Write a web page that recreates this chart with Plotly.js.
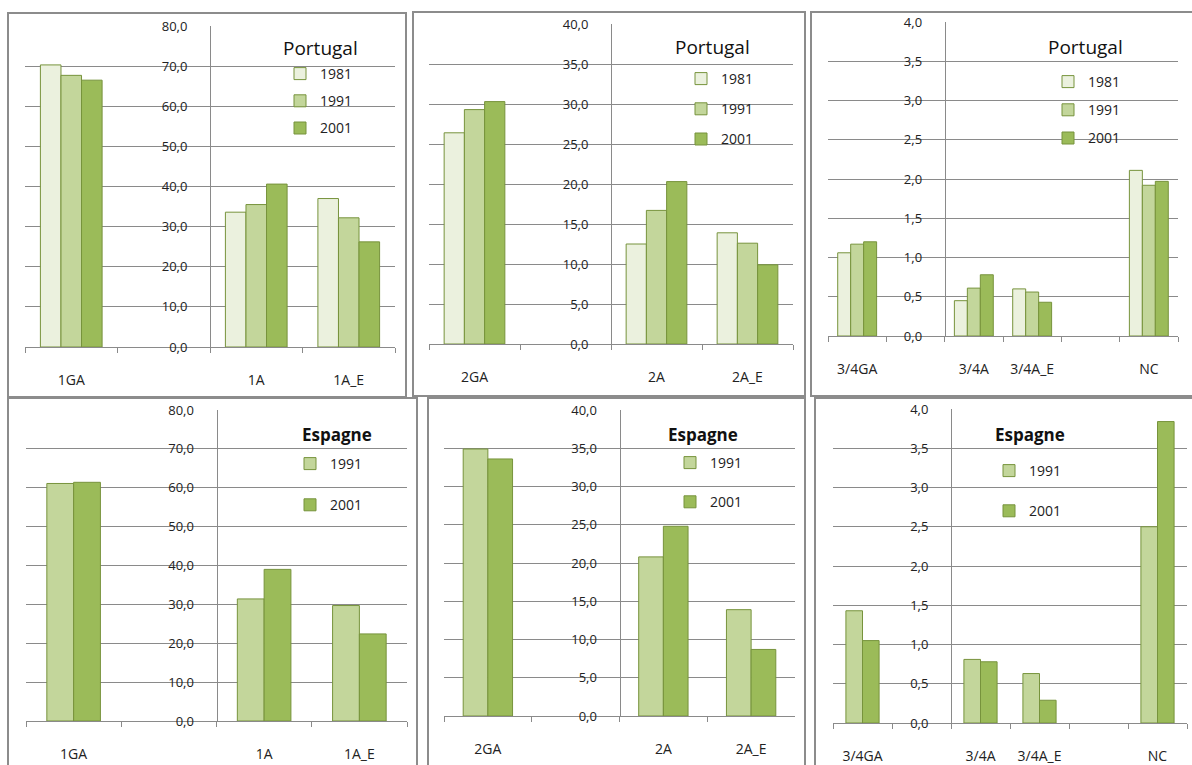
<!DOCTYPE html>
<html>
<head>
<meta charset="utf-8">
<script src="https://cdn.plot.ly/plotly-3.0.1.min.js"></script>
<style>
html,body{margin:0;padding:0;background:#fff;}
#chart{width:1192px;height:765px;}
</style>
</head>
<body>
<div id="chart"></div>
<script>
// ---------- DATA ----------
const yearsPT = ['1981', '1991', '2001'];
const yearsES = ['1991', '2001'];

const cat1 = ['1GA', ' ', '1A', '1A_E'];
const cat2 = ['2GA', ' ', '2A', '2A_E'];
const cat3 = ['3/4GA', ' ', '3/4A', '3/4A_E', '  ', 'NC'];

// Portugal
const pt1_1981 = [70.3, null, 33.6, 37.0];
const pt1_1991 = [67.7, null, 35.5, 32.2];
const pt1_2001 = [66.5, null, 40.6, 26.2];

const pt2_1981 = [26.4, null, 12.5, 13.9];
const pt2_1991 = [29.3, null, 16.7, 12.6];
const pt2_2001 = [30.3, null, 20.3, 9.9];

const pt3_1981 = [1.06, null, 0.45, 0.60, null, 2.11];
const pt3_1991 = [1.17, null, 0.61, 0.56, null, 1.92];
const pt3_2001 = [1.20, null, 0.78, 0.43, null, 1.97];

// Espagne
const es1_1991 = [61.1, null, 31.4, 29.7];
const es1_2001 = [61.4, null, 39.0, 22.4];

const es2_1991 = [34.9, null, 20.8, 13.9];
const es2_2001 = [33.6, null, 24.8, 8.7];

const es3_1991 = [1.43, null, 0.81, 0.63, null, 2.50];
const es3_2001 = [1.05, null, 0.78, 0.29, null, 3.84];

const titlePT = 'Portugal';
const titleES = 'Espagne';

// ---------- STYLE / LAYOUT ----------
const W = 1192, H = 765;
const fx = x => x / W;
const fy = y => 1 - y / H;

const FONT = '"Open Sans", Lato, sans-serif';
const GRID = '#8a8a8a';
const OUTLINE = '#77933c';
const FILL = {'1981': '#ebf1de', '1991': '#c3d69b', '2001': '#9bbb59'};

const panels = [
  {cats: cat1, years: yearsPT, series: [pt1_1981, pt1_1991, pt1_2001], title: titlePT, bold: false,
   x0: 25, x1: 395, yTop: 26, yBot: 347, max: 80, dtick: 10, axisX: 210,
   tx: 320, ty: 48, lx: 280, ly: 58, gap: 6, border: [8, 13, 406, 397]},
  {cats: cat2, years: yearsPT, series: [pt2_1981, pt2_1991, pt2_2001], title: titlePT, bold: false,
   x0: 429, x1: 793, yTop: 24, yBot: 344, max: 40, dtick: 5, axisX: 611,
   tx: 712, ty: 47, lx: 681, ly: 63, gap: 9, border: [413, 12, 805, 396]},
  {cats: cat3, years: yearsPT, series: [pt3_1981, pt3_1991, pt3_2001], title: titlePT, bold: false,
   x0: 828, x1: 1178, yTop: 22, yBot: 336, max: 4, dtick: 0.5, axisX: 944.7,
   tx: 1085, ty: 47, lx: 1048, ly: 66, gap: 7, border: [811, 12, 1200, 396]},
  {cats: cat1, years: yearsES, series: [es1_1991, es1_2001], title: titleES, bold: true,
   x0: 26, x1: 407, yTop: 410, yBot: 721, max: 80, dtick: 10, axisX: 216.5,
   tx: 337, ty: 434, lx: 290, ly: 448, gap: 20, border: [8, 398, 417, 800]},
  {cats: cat2, years: yearsES, series: [es2_1991, es2_2001], title: titleES, bold: true,
   x0: 444, x1: 795, yTop: 410, yBot: 716, max: 40, dtick: 5, axisX: 619.5,
   tx: 703, ty: 434, lx: 670, ly: 447, gap: 18, border: [428, 398, 805, 800]},
  {cats: cat3, years: yearsES, series: [es3_1991, es3_2001], title: titleES, bold: true,
   x0: 833, x1: 1187, yTop: 409, yBot: 723, max: 4, dtick: 0.5, axisX: 951,
   tx: 1030, ty: 434, lx: 989, ly: 455, gap: 19, border: [815, 398, 1200, 800]}
];

const traces = [];
const layout = {
  width: W, height: H,
  margin: {l: 0, r: 0, t: 0, b: 0},
  paper_bgcolor: '#fff', plot_bgcolor: 'rgba(0,0,0,0)',
  separators: ',.',
  barmode: 'group',
  font: {family: FONT, size: 13, color: '#222'},
  showlegend: true,
  shapes: [], annotations: []
};

panels.forEach((p, i) => {
  const n = i + 1;
  const sfx = n === 1 ? '' : String(n);
  const xa = 'x' + sfx, ya = 'y' + sfx, lg = 'legend' + sfx;
  const k = p.years.length;
  const groupW = k === 3 ? 0.667 : 0.5625;
  const bw = groupW / k;

  p.years.forEach((yr, j) => {
    traces.push({
      type: 'bar', name: yr, x: p.cats, y: p.series[j],
      xaxis: xa, yaxis: ya, legend: lg, legendgroup: 'g' + n + '_' + yr,
      width: bw, offset: -groupW / 2 + j * bw,
      marker: {color: FILL[yr], line: {color: OUTLINE, width: 1}},
      hoverinfo: 'x+y+name'
    });
  });

  layout['xaxis' + sfx] = {
    domain: [fx(p.x0), fx(p.x1)], anchor: ya, type: 'category',
    categoryorder: 'array', categoryarray: p.cats,
    tickson: 'boundaries', ticks: 'outside', ticklen: 5, tickcolor: GRID, tickwidth: 1,
    showline: true, linecolor: GRID, linewidth: 1,
    showgrid: false, zeroline: false, fixedrange: true,
    ticklabelstandoff: 20,
    tickfont: {family: FONT, size: 14, color: '#222'}
  };
  layout['yaxis' + sfx] = {
    domain: [fy(p.yBot), fy(p.yTop)], anchor: 'free', position: fx(p.axisX),
    range: [0, p.max], dtick: p.dtick, tick0: 0, tickformat: '.1f',
    showline: true, linecolor: GRID, linewidth: 1,
    showgrid: true, gridcolor: GRID, gridwidth: 1,
    zeroline: false, ticks: '', fixedrange: true,
    ticklabelstandoff: 20,
    tickfont: {family: FONT, size: 13, color: '#222'}
  };
  layout[lg] = {
    x: fx(p.lx), y: fy(p.ly), xanchor: 'left', yanchor: 'top',
    bgcolor: 'rgba(0,0,0,0)', borderwidth: 0,
    font: {family: FONT, size: 14, color: '#222'},
    traceorder: 'grouped', tracegroupgap: p.gap
  };
  layout.annotations.push({
    text: p.title, xref: 'paper', yref: 'paper', x: fx(p.tx), y: fy(p.ty),
    xanchor: 'center', yanchor: 'middle', showarrow: false,
    font: {family: FONT, size: p.bold ? 17 : 19, color: '#111', weight: p.bold ? 'bold' : 'normal'}
  });
  const b = p.border;
  layout.shapes.push({
    type: 'rect', xref: 'paper', yref: 'paper',
    x0: fx(b[0]), x1: fx(b[2]), y0: fy(b[3]), y1: fy(b[1]),
    line: {color: '#8c8c8c', width: 2}, fillcolor: 'rgba(0,0,0,0)', layer: 'below'
  });
});

Plotly.newPlot('chart', traces, layout, {displayModeBar: false, staticPlot: false});
</script>
</body>
</html>
